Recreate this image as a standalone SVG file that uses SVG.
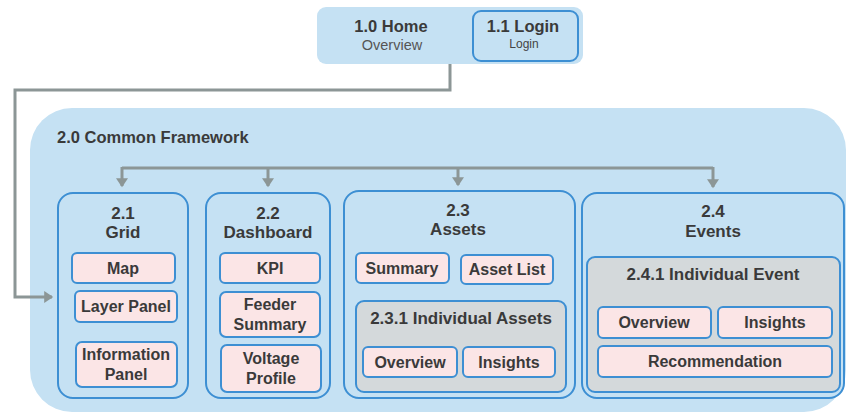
<svg xmlns="http://www.w3.org/2000/svg" width="847" height="412" viewBox="0 0 847 412">
<style>
text{font-family:"Liberation Sans",Arial,sans-serif;fill:#3a3a3a;text-anchor:middle}
.b{font-weight:bold;font-size:17px}
.h{font-weight:bold;font-size:16.5px}
.i{font-weight:bold;font-size:16px}
.sec{fill:#c5e1f3;stroke:#3d8fd3;stroke-width:2}
.item{fill:#fbe5e6;stroke:#3d8fd3;stroke-width:2}
.grp{fill:#d4d9db;stroke:#3d8fd3;stroke-width:2}
.con{fill:none;stroke:#8c9696;stroke-width:3}
</style>
<defs>
<marker id="ah" markerWidth="4" markerHeight="4" refX="2.6" refY="2" orient="auto" markerUnits="strokeWidth">
<path d="M0,0 L3,2 L0,4 Z" fill="#8c9696"/>
</marker>
</defs>
<g id="home">
<rect x="317" y="7" width="266" height="57" rx="9" fill="#c5e1f3"/>
<text class="h" x="391" y="32">1.0 Home</text>
<text x="392" y="50" style="font-size:14.5px;fill:#555">Overview</text>
</g>
<g id="login">
<rect x="473" y="11" width="105" height="50" rx="8" class="sec"/>
<text class="h" x="523" y="32">1.1 Login</text>
<text x="524" y="48" style="font-size:12px;fill:#444">Login</text>
</g>
<g id="framework">
<rect x="30" y="108" width="816" height="304" rx="42" fill="#c5e1f3"/>
<text class="h" x="57" y="143" style="text-anchor:start">2.0 Common  Framework</text>
</g>
<g id="connectors">
<path class="con" d="M450,64 V90 H15 V297 H52" marker-end="url(#ah)"/>
<path class="con" d="M122,168 H713"/>
<path class="con" d="M122,167 V186" marker-end="url(#ah)"/>
<path class="con" d="M268,168 V186" marker-end="url(#ah)"/>
<path class="con" d="M458,168 V185" marker-end="url(#ah)"/>
<path class="con" d="M713,167 V187" marker-end="url(#ah)"/>
</g>
<g id="grid">
<rect x="58" y="193" width="130" height="205" rx="15" class="sec"/>
<text class="b" x="123" y="219">2.1</text>
<text class="b" x="123" y="238">Grid</text>
</g>
<g id="map"><rect x="72" y="253" width="103" height="30" rx="5" class="item"/><text class="i" x="123" y="274">Map</text></g>
<g id="layer-panel"><rect x="75" y="291" width="102" height="31" rx="5" class="item"/><text class="i" x="126" y="312">Layer Panel</text></g>
<g id="information-panel"><rect x="76" y="342" width="101" height="45" rx="6" class="item"/><text class="i" x="126" y="360">Information</text><text class="i" x="126" y="380">Panel</text></g>
<g id="dashboard">
<rect x="206" y="193" width="124" height="205" rx="15" class="sec"/>
<text class="b" x="268" y="219">2.2</text>
<text class="b" x="268" y="238">Dashboard</text>
</g>
<g id="kpi"><rect x="220" y="253" width="100" height="30" rx="5" class="item"/><text class="i" x="270" y="274">KPI</text></g>
<g id="feeder-summary"><rect x="220" y="292" width="100" height="45" rx="6" class="item"/><text class="i" x="270" y="310">Feeder</text><text class="i" x="270" y="330">Summary</text></g>
<g id="voltage-profile"><rect x="221" y="345" width="100" height="47" rx="6" class="item"/><text class="i" x="271" y="364">Voltage</text><text class="i" x="271" y="384">Profile</text></g>
<g id="assets">
<rect x="344" y="191" width="231" height="207" rx="15" class="sec"/>
<text class="b" x="458" y="216">2.3</text>
<text class="b" x="458" y="235">Assets</text>
</g>
<g id="summary"><rect x="356" y="253" width="93" height="30" rx="5" class="item"/><text class="i" x="402" y="274">Summary</text></g>
<g id="asset-list"><rect x="461" y="255" width="92" height="29" rx="5" class="item"/><text class="i" x="507" y="275">Asset List</text></g>
<g id="individual-assets">
<rect x="356" y="301" width="210" height="91" rx="8" class="grp"/>
<text class="b" x="461" y="324">2.3.1 Individual  Assets</text>
</g>
<g id="asset-overview"><rect x="363" y="347" width="94" height="30" rx="5" class="item"/><text class="i" x="410" y="368">Overview</text></g>
<g id="asset-insights"><rect x="463" y="347" width="92" height="30" rx="5" class="item"/><text class="i" x="509" y="368">Insights</text></g>
<g id="events">
<rect x="582" y="193" width="262" height="205" rx="15" class="sec"/>
<text class="b" x="713" y="217">2.4</text>
<text class="b" x="713" y="237">Events</text>
</g>
<g id="individual-event">
<rect x="587" y="257" width="253" height="135" rx="8" class="grp"/>
<text class="b" x="713" y="280">2.4.1 Individual  Event</text>
</g>
<g id="event-overview"><rect x="598" y="307" width="113" height="31" rx="5" class="item"/><text class="i" x="654" y="328">Overview</text></g>
<g id="event-insights"><rect x="718" y="307" width="114" height="31" rx="5" class="item"/><text class="i" x="775" y="328">Insights</text></g>
<g id="recommendation"><rect x="598" y="346" width="234" height="31" rx="5" class="item"/><text class="i" x="715" y="367">Recommendation</text></g>
</svg>
